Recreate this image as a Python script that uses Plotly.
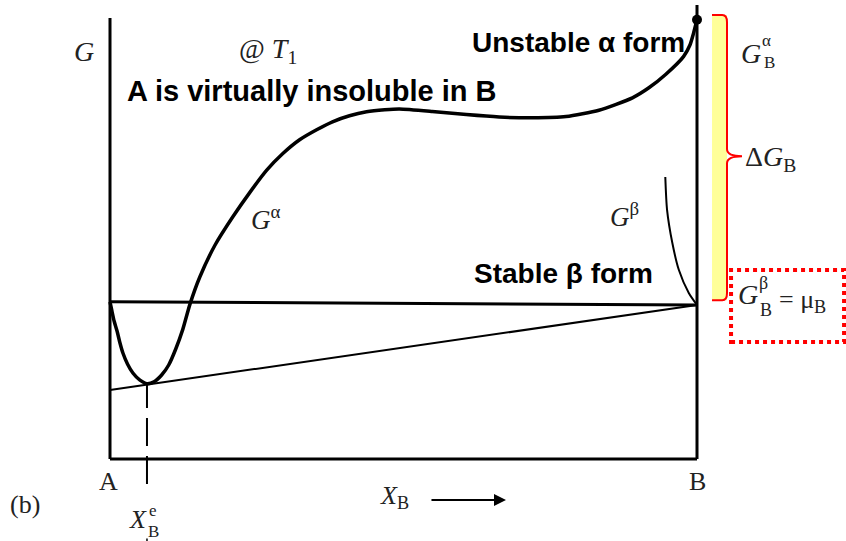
import plotly.graph_objects as go

# Composition X_B (A = 0, B = 1) and free energy G (arbitrary units)
x_alpha = [0.000, 0.003, 0.007, 0.012, 0.017, 0.022, 0.030, 0.039, 0.051, 0.063,
           0.075, 0.088, 0.100, 0.112, 0.124, 0.136, 0.153, 0.179, 0.209, 0.238,
           0.267, 0.294, 0.323, 0.352, 0.379, 0.408, 0.437, 0.468, 0.493, 0.549,
           0.607, 0.663, 0.719, 0.777, 0.833, 0.890, 0.918, 0.947, 0.977, 0.988,
           0.994, 1.000]
g_alpha = [0.393, 0.372, 0.345, 0.320, 0.290, 0.265, 0.237, 0.215, 0.197, 0.188,
           0.193, 0.210, 0.235, 0.275, 0.324, 0.386, 0.455, 0.535, 0.605, 0.666,
           0.722, 0.763, 0.798, 0.823, 0.843, 0.858, 0.868, 0.873, 0.875, 0.869,
           0.861, 0.855, 0.853, 0.856, 0.872, 0.903, 0.928, 0.962, 1.006, 1.035,
           1.064, 1.098]

x_beta = [0.946, 0.949, 0.958, 0.969, 0.986, 1.000]
g_beta = [0.705, 0.623, 0.540, 0.473, 0.415, 0.385]

# Straight line joining G_A^beta and G_B^beta
x_beta_line = [0.0, 1.0]
g_beta_line = [0.393, 0.385]

# Common tangent through the alpha minimum
x_tangent = [0.0, 1.0]
g_tangent = [0.1725, 0.385]

x_eq = 0.063          # equilibrium solubility X_B^e
g_alpha_B = 1.098     # G_B^alpha
g_beta_B = 0.385      # G_B^beta = mu_B

SERIF = "Liberation Serif"
SANS = "Liberation Sans"

fig = go.Figure()

fig.add_trace(go.Scatter(x=x_alpha, y=g_alpha, mode="lines",
                         line=dict(color="black", width=3.5, shape="spline", smoothing=0.6),
                         hoverinfo="skip"))
fig.add_trace(go.Scatter(x=x_beta, y=g_beta, mode="lines",
                         line=dict(color="black", width=2, shape="spline", smoothing=0.7),
                         hoverinfo="skip"))
fig.add_trace(go.Scatter(x=x_beta_line, y=g_beta_line, mode="lines",
                         line=dict(color="black", width=3), hoverinfo="skip"))
fig.add_trace(go.Scatter(x=x_tangent, y=g_tangent, mode="lines",
                         line=dict(color="black", width=2), hoverinfo="skip"))
fig.add_trace(go.Scatter(x=[1.0], y=[g_alpha_B], mode="markers",
                         marker=dict(color="black", size=10), hoverinfo="skip"))

shapes = []
# frame: G axis at A, base line, and the B side
shapes.append(dict(type="line", x0=0, x1=0, y0=0, y1=1.1025,
                   line=dict(color="black", width=3)))
shapes.append(dict(type="line", x0=0, x1=1.0, y0=0, y1=0,
                   line=dict(color="black", width=3)))
shapes.append(dict(type="line", x0=1.0, x1=1.0, y0=0, y1=1.135,
                   line=dict(color="black", width=3)))
# dashed drop line to X_B^e
shapes.append(dict(type="line", x0=x_eq, x1=x_eq, y0=-0.0625, y1=0.186,
                   line=dict(color="black", width=2, dash="28px,10px")))
shapes.append(dict(type="line", x0=x_eq, x1=x_eq, y0=-0.205, y1=-0.199,
                   line=dict(color="black", width=1.5)))

# yellow band and red brace spanning Delta G_B
bx0, bx1, btip = 1.0256, 1.0511, 1.0767
top = g_alpha_B + 0.012
bot = g_beta_B + 0.012
mid = 0.757
shapes.append(dict(type="rect", x0=bx0, x1=bx1, y0=bot, y1=top,
                   fillcolor="#FFFF99", line=dict(width=0), layer="below"))
r = 0.018
brace = (f"M {bx0},{top} L {bx1 - 0.008},{top} Q {bx1},{top} {bx1},{top - r} "
         f"L {bx1},{mid + r} Q {bx1},{mid} {btip},{mid} "
         f"Q {bx1},{mid} {bx1},{mid - r} "
         f"L {bx1},{bot + r} Q {bx1},{bot} {bx1 - 0.008},{bot} L {bx0},{bot}")
shapes.append(dict(type="path", path=brace, line=dict(color="#FF0000", width=2)))

# dotted red box round G_B^beta = mu_B
shapes.append(dict(type="rect", x0=1.058, x1=1.2505, y0=0.2925, y1=0.4725,
                   line=dict(color="#FF0000", width=4, dash="dot")))

ann = []


def text(x, y, s, size, family=SERIF, anchor="center", bold=False, color="#222"):
    ann.append(dict(x=x, y=y, text=f"<b>{s}</b>" if bold else s, showarrow=False,
                    xanchor=anchor, yanchor="middle",
                    font=dict(family=family, size=size, color=color)))


text(-0.045, 1.02, "<i>G</i>", 28)
text(0.269, 1.022, "@ <i>T</i><sub>1</sub>", 28)
text(0.0256, 0.92, "A is virtually insoluble in B", 29, SANS, "left", True, "black")
text(0.6133, 1.0425, "Unstable α form", 28, SANS, "left", True, "black")
text(0.6167, 0.465, "Stable β form", 28, SANS, "left", True, "black")
text(0.2658, 0.6025, "<i>G</i><sup>α</sup>", 27)
text(0.8773, 0.61, "<i>G</i><sup>β</sup>", 27)

# G_B^alpha
text(1.1124, 1.015, "<i>G</i>", 28, anchor="right")
text(1.108, 1.047, "α", 17, anchor="left")
text(1.110, 0.991, "B", 17, anchor="left")
# Delta G_B
text(1.0784, 0.7525, "Δ<i>G</i><sub>B</sub>", 28, anchor="left")
# G_B^beta = mu_B
text(1.1073, 0.412, "<i>G</i>", 28, anchor="right")
text(1.103, 0.44, "β", 18, anchor="left")
text(1.104, 0.3725, "B", 18, anchor="left")
text(1.136, 0.395, "= μ<sub>B</sub>", 26, anchor="left")

text(-0.0034, -0.055, "A", 26)
text(1.0, -0.055, "B", 26)
text(-0.1448, -0.1125, "(b)", 26)
text(0.4855, -0.095, "<i>X</i><sub>B</sub>", 26)
# X_B^e
text(0.0664, -0.152, "<i>X</i>", 26, anchor="right")
text(0.063, -0.128, "e", 17, anchor="left")
text(0.061, -0.182, "B", 17, anchor="left")

# composition arrow
ann.append(dict(x=0.6746, y=-0.1025, ax=0.5451, ay=-0.1025, axref="x", ayref="y",
                xref="x", yref="y", showarrow=True, arrowhead=2, arrowsize=1.2,
                arrowwidth=2, arrowcolor="black", text=""))

fig.update_layout(
    width=846, height=541,
    margin=dict(l=0, r=0, t=0, b=0),
    paper_bgcolor="white", plot_bgcolor="white",
    showlegend=False,
    xaxis=dict(range=[-0.18739, 1.25383], visible=False, fixedrange=True),
    yaxis=dict(range=[-0.205, 1.1475], visible=False, fixedrange=True),
    shapes=shapes, annotations=ann,
)

fig.write_html("out.html")
